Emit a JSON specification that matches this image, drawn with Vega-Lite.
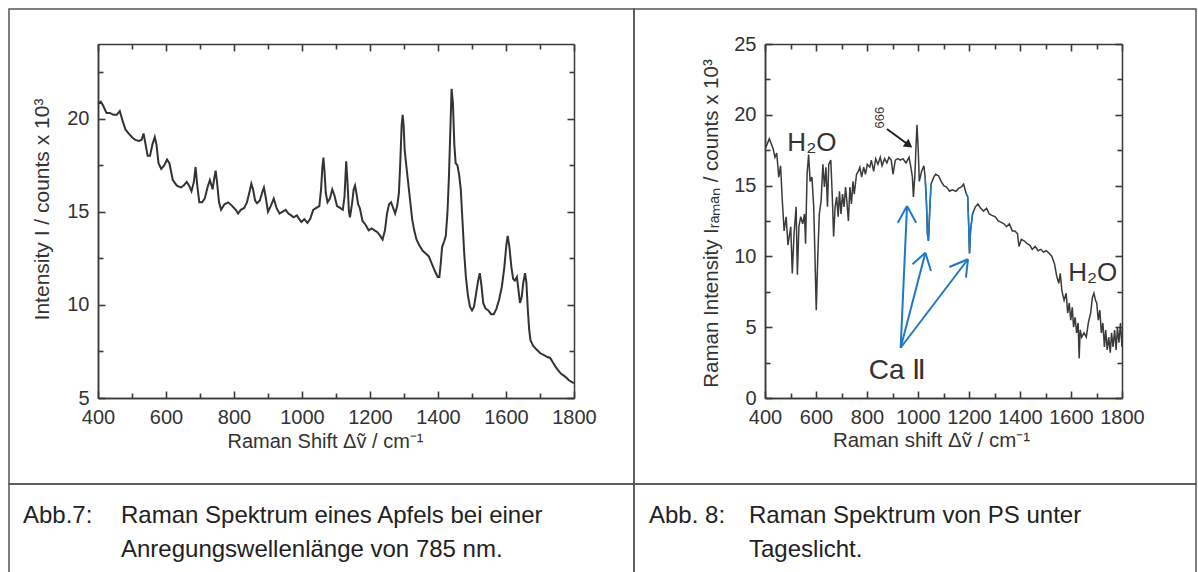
{
  "$schema": "https://vega.github.io/schema/vega-lite/v6.json",
  "padding": {"left": 8, "top": 8, "right": 0, "bottom": 0},
  "background": "white",
  "spacing": 0,
  "columns": 2,
  "align": "each",
  "bounds": "flush",
  "config": {
    "font": "Liberation Sans",
    "view": {"stroke": null},
    "concat": {"spacing": 0},
    "axis": {"grid": false, "domainColor": "#3a3a3a", "domainWidth": 1.5, "tickColor": "#3a3a3a", "tickWidth": 1.6, "labelColor": "#333", "titleColor": "#333", "labelFontSize": 20, "titleFontSize": 20, "titleFontWeight": "normal", "labelFont": "Liberation Sans", "titleFont": "Liberation Sans", "labelFlush": false, "labelOverlap": false}
  },
  "datasets": {
    "apple": [
      {"shift":400,"intensity":20.8},{"shift":408,"intensity":20.9},{"shift":415,"intensity":20.7},{"shift":425,"intensity":20.3},{"shift":435,"intensity":20.3},{"shift":445,"intensity":20.2},{"shift":455,"intensity":20.2},{"shift":464,"intensity":20.4},{"shift":472,"intensity":19.9},{"shift":481,"intensity":19.4},{"shift":490,"intensity":19.2},{"shift":500,"intensity":19.0},{"shift":510,"intensity":18.85},{"shift":520,"intensity":18.8},{"shift":528,"intensity":18.85},{"shift":534,"intensity":19.2},{"shift":540,"intensity":18.6},{"shift":546,"intensity":18.0},{"shift":553,"intensity":18.0},{"shift":560,"intensity":18.6},{"shift":567,"intensity":19.0},{"shift":572,"intensity":18.6},{"shift":578,"intensity":17.6},{"shift":586,"intensity":17.3},{"shift":595,"intensity":17.5},{"shift":603,"intensity":17.8},{"shift":610,"intensity":17.6},{"shift":620,"intensity":16.7},{"shift":632,"intensity":16.4},{"shift":644,"intensity":16.3},{"shift":652,"intensity":16.4},{"shift":661,"intensity":16.6},{"shift":668,"intensity":16.4},{"shift":675,"intensity":16.1},{"shift":682,"intensity":16.6},{"shift":687,"intensity":17.4},{"shift":692,"intensity":16.4},{"shift":698,"intensity":15.5},{"shift":706,"intensity":15.5},{"shift":714,"intensity":15.7},{"shift":722,"intensity":16.3},{"shift":729,"intensity":16.7},{"shift":734,"intensity":16.4},{"shift":737,"intensity":16.2},{"shift":742,"intensity":16.8},{"shift":746,"intensity":17.2},{"shift":750,"intensity":16.6},{"shift":756,"intensity":15.5},{"shift":762,"intensity":15.1},{"shift":772,"intensity":15.4},{"shift":783,"intensity":15.5},{"shift":795,"intensity":15.3},{"shift":805,"intensity":15.1},{"shift":812,"intensity":14.9},{"shift":820,"intensity":15.1},{"shift":830,"intensity":15.2},{"shift":838,"intensity":15.5},{"shift":846,"intensity":16.1},{"shift":851,"intensity":16.5},{"shift":856,"intensity":16.2},{"shift":862,"intensity":15.6},{"shift":868,"intensity":15.45},{"shift":876,"intensity":15.6},{"shift":884,"intensity":16.1},{"shift":888,"intensity":16.3},{"shift":893,"intensity":15.8},{"shift":900,"intensity":15.0},{"shift":908,"intensity":15.3},{"shift":917,"intensity":15.7},{"shift":925,"intensity":15.2},{"shift":934,"intensity":14.9},{"shift":943,"intensity":15.0},{"shift":952,"intensity":15.1},{"shift":960,"intensity":14.9},{"shift":968,"intensity":14.8},{"shift":975,"intensity":14.7},{"shift":985,"intensity":14.8},{"shift":992,"intensity":14.6},{"shift":998,"intensity":14.45},{"shift":1007,"intensity":14.6},{"shift":1016,"intensity":14.4},{"shift":1024,"intensity":14.6},{"shift":1033,"intensity":15.1},{"shift":1042,"intensity":15.2},{"shift":1051,"intensity":15.3},{"shift":1056,"intensity":16.2},{"shift":1060,"intensity":17.4},{"shift":1063,"intensity":17.9},{"shift":1066,"intensity":17.2},{"shift":1070,"intensity":16.0},{"shift":1075,"intensity":15.5},{"shift":1082,"intensity":15.7},{"shift":1089,"intensity":16.2},{"shift":1095,"intensity":15.9},{"shift":1103,"intensity":15.3},{"shift":1112,"intensity":15.2},{"shift":1120,"intensity":15.1},{"shift":1125,"intensity":15.8},{"shift":1130,"intensity":17.7},{"shift":1134,"intensity":16.5},{"shift":1138,"intensity":15.0},{"shift":1141,"intensity":14.7},{"shift":1147,"intensity":15.4},{"shift":1152,"intensity":16.2},{"shift":1156,"intensity":16.4},{"shift":1160,"intensity":16.0},{"shift":1165,"intensity":15.4},{"shift":1170,"intensity":15.2},{"shift":1178,"intensity":14.5},{"shift":1187,"intensity":14.3},{"shift":1196,"intensity":14.0},{"shift":1205,"intensity":14.1},{"shift":1213,"intensity":14.0},{"shift":1222,"intensity":13.9},{"shift":1230,"intensity":13.7},{"shift":1237,"intensity":13.5},{"shift":1244,"intensity":14.0},{"shift":1250,"intensity":14.9},{"shift":1256,"intensity":15.4},{"shift":1262,"intensity":15.5},{"shift":1268,"intensity":15.2},{"shift":1274,"intensity":14.9},{"shift":1280,"intensity":15.3},{"shift":1285,"intensity":16.0},{"shift":1289,"intensity":17.6},{"shift":1293,"intensity":19.6},{"shift":1296,"intensity":20.2},{"shift":1299,"intensity":19.6},{"shift":1302,"intensity":18.3},{"shift":1306,"intensity":17.6},{"shift":1312,"intensity":16.6},{"shift":1318,"intensity":15.6},{"shift":1324,"intensity":14.6},{"shift":1330,"intensity":14.0},{"shift":1337,"intensity":13.5},{"shift":1345,"intensity":13.2},{"shift":1355,"intensity":12.9},{"shift":1364,"intensity":12.75},{"shift":1373,"intensity":12.6},{"shift":1382,"intensity":12.2},{"shift":1391,"intensity":11.8},{"shift":1399,"intensity":11.5},{"shift":1404,"intensity":11.5},{"shift":1408,"intensity":12.2},{"shift":1412,"intensity":13.1},{"shift":1418,"intensity":13.4},{"shift":1423,"intensity":13.7},{"shift":1428,"intensity":15.0},{"shift":1432,"intensity":16.8},{"shift":1436,"intensity":19.2},{"shift":1440,"intensity":21.6},{"shift":1444,"intensity":20.8},{"shift":1448,"intensity":18.6},{"shift":1452,"intensity":17.6},{"shift":1457,"intensity":17.5},{"shift":1462,"intensity":17.0},{"shift":1467,"intensity":16.2},{"shift":1472,"intensity":14.5},{"shift":1477,"intensity":12.8},{"shift":1482,"intensity":11.5},{"shift":1488,"intensity":10.5},{"shift":1494,"intensity":9.9},{"shift":1500,"intensity":9.7},{"shift":1506,"intensity":9.9},{"shift":1512,"intensity":10.6},{"shift":1518,"intensity":11.3},{"shift":1523,"intensity":11.7},{"shift":1528,"intensity":11.0},{"shift":1533,"intensity":10.1},{"shift":1540,"intensity":9.8},{"shift":1548,"intensity":9.7},{"shift":1556,"intensity":9.5},{"shift":1564,"intensity":9.5},{"shift":1572,"intensity":9.8},{"shift":1580,"intensity":10.3},{"shift":1588,"intensity":11.0},{"shift":1595,"intensity":12.0},{"shift":1601,"intensity":13.2},{"shift":1605,"intensity":13.7},{"shift":1610,"intensity":13.1},{"shift":1616,"intensity":12.0},{"shift":1621,"intensity":11.4},{"shift":1626,"intensity":11.3},{"shift":1632,"intensity":11.5},{"shift":1636,"intensity":10.9},{"shift":1641,"intensity":10.1},{"shift":1646,"intensity":10.4},{"shift":1651,"intensity":11.2},{"shift":1656,"intensity":11.7},{"shift":1660,"intensity":11.2},{"shift":1664,"intensity":9.8},{"shift":1668,"intensity":8.7},{"shift":1672,"intensity":8.1},{"shift":1680,"intensity":7.8},{"shift":1690,"intensity":7.6},{"shift":1701,"intensity":7.4},{"shift":1712,"intensity":7.3},{"shift":1722,"intensity":7.2},{"shift":1730,"intensity":7.15},{"shift":1738,"intensity":6.9},{"shift":1745,"intensity":6.7},{"shift":1753,"intensity":6.5},{"shift":1762,"intensity":6.3},{"shift":1770,"intensity":6.2},{"shift":1777,"intensity":6.1},{"shift":1785,"intensity":5.95},{"shift":1794,"intensity":5.85},{"shift":1800,"intensity":5.8}
    ],
    "ps": [
      {"shift":403,"intensity":17.7},{"shift":417,"intensity":18.3},{"shift":432,"intensity":17.6},{"shift":439,"intensity":17.0},{"shift":446,"intensity":17.3},{"shift":454,"intensity":15.6},{"shift":461,"intensity":16.4},{"shift":468,"intensity":13.9},{"shift":475,"intensity":11.8},{"shift":483,"intensity":12.8},{"shift":490,"intensity":10.8},{"shift":501,"intensity":12.1},{"shift":507,"intensity":8.8},{"shift":514,"intensity":11.6},{"shift":522,"intensity":13.5},{"shift":527,"intensity":8.7},{"shift":533,"intensity":12.1},{"shift":540,"intensity":12.8},{"shift":548,"intensity":12.3},{"shift":555,"intensity":13.0},{"shift":559,"intensity":10.9},{"shift":565,"intensity":15.8},{"shift":571,"intensity":17.2},{"shift":577,"intensity":15.3},{"shift":584,"intensity":15.6},{"shift":591,"intensity":13.5},{"shift":595,"intensity":10.7},{"shift":601,"intensity":6.2},{"shift":607,"intensity":10.0},{"shift":613,"intensity":13.0},{"shift":620,"intensity":13.9},{"shift":627,"intensity":16.5},{"shift":633,"intensity":14.9},{"shift":639,"intensity":16.3},{"shift":645,"intensity":13.5},{"shift":650,"intensity":16.5},{"shift":658,"intensity":16.8},{"shift":664,"intensity":14.2},{"shift":669,"intensity":11.4},{"shift":675,"intensity":13.5},{"shift":681,"intensity":14.2},{"shift":687,"intensity":12.8},{"shift":692,"intensity":14.6},{"shift":698,"intensity":13.0},{"shift":704,"intensity":14.4},{"shift":710,"intensity":13.5},{"shift":716,"intensity":14.9},{"shift":721,"intensity":13.9},{"shift":727,"intensity":12.5},{"shift":733,"intensity":14.9},{"shift":739,"intensity":13.7},{"shift":745,"intensity":15.3},{"shift":750,"intensity":14.4},{"shift":759,"intensity":15.8},{"shift":766,"intensity":16.0},{"shift":772,"intensity":16.3},{"shift":779,"intensity":15.6},{"shift":787,"intensity":16.3},{"shift":794,"intensity":15.8},{"shift":801,"intensity":16.5},{"shift":811,"intensity":16.3},{"shift":817,"intensity":16.8},{"shift":826,"intensity":16.0},{"shift":834,"intensity":16.9},{"shift":843,"intensity":16.5},{"shift":852,"intensity":17.0},{"shift":859,"intensity":16.4},{"shift":869,"intensity":16.9},{"shift":878,"intensity":16.6},{"shift":886,"intensity":17.0},{"shift":895,"intensity":16.8},{"shift":902,"intensity":15.8},{"shift":911,"intensity":16.8},{"shift":921,"intensity":16.9},{"shift":931,"intensity":16.8},{"shift":941,"intensity":16.9},{"shift":953,"intensity":16.6},{"shift":965,"intensity":17.0},{"shift":972,"intensity":16.3},{"shift":978,"intensity":15.6},{"shift":982,"intensity":14.2},{"shift":988,"intensity":15.8},{"shift":992,"intensity":17.7},{"shift":996,"intensity":19.3},{"shift":1001,"intensity":17.5},{"shift":1005,"intensity":15.3},{"shift":1014,"intensity":16.0},{"shift":1023,"intensity":16.4},{"shift":1028,"intensity":15.6},{"shift":1033,"intensity":13.9},{"shift":1037,"intensity":11.6},{"shift":1041,"intensity":11.1},{"shift":1046,"intensity":13.2},{"shift":1051,"intensity":15.1},{"shift":1062,"intensity":15.6},{"shift":1069,"intensity":15.8},{"shift":1080,"intensity":15.7},{"shift":1091,"intensity":15.3},{"shift":1101,"intensity":15.0},{"shift":1112,"intensity":14.9},{"shift":1124,"intensity":14.6},{"shift":1134,"intensity":14.7},{"shift":1149,"intensity":14.6},{"shift":1159,"intensity":14.8},{"shift":1170,"intensity":14.9},{"shift":1179,"intensity":15.1},{"shift":1188,"intensity":14.5},{"shift":1195,"intensity":14.2},{"shift":1199,"intensity":12.1},{"shift":1202,"intensity":10.2},{"shift":1206,"intensity":11.8},{"shift":1214,"intensity":13.0},{"shift":1225,"intensity":13.5},{"shift":1235,"intensity":13.7},{"shift":1246,"intensity":13.4},{"shift":1257,"intensity":13.2},{"shift":1269,"intensity":13.4},{"shift":1279,"intensity":13.0},{"shift":1290,"intensity":12.9},{"shift":1303,"intensity":12.8},{"shift":1315,"intensity":12.5},{"shift":1327,"intensity":12.4},{"shift":1337,"intensity":12.3},{"shift":1347,"intensity":12.1},{"shift":1358,"intensity":12.3},{"shift":1370,"intensity":11.8},{"shift":1380,"intensity":11.8},{"shift":1390,"intensity":11.6},{"shift":1396,"intensity":10.7},{"shift":1405,"intensity":11.2},{"shift":1416,"intensity":11.1},{"shift":1428,"intensity":10.9},{"shift":1438,"intensity":10.8},{"shift":1448,"intensity":10.5},{"shift":1460,"intensity":10.7},{"shift":1471,"intensity":10.4},{"shift":1482,"intensity":10.5},{"shift":1492,"intensity":10.3},{"shift":1503,"intensity":10.4},{"shift":1515,"intensity":10.2},{"shift":1525,"intensity":10.0},{"shift":1535,"intensity":9.5},{"shift":1544,"intensity":8.6},{"shift":1552,"intensity":8.1},{"shift":1558,"intensity":8.8},{"shift":1564,"intensity":7.6},{"shift":1573,"intensity":6.9},{"shift":1581,"intensity":7.4},{"shift":1587,"intensity":6.0},{"shift":1593,"intensity":6.7},{"shift":1599,"intensity":5.5},{"shift":1605,"intensity":6.4},{"shift":1610,"intensity":5.0},{"shift":1616,"intensity":5.7},{"shift":1622,"intensity":4.6},{"shift":1628,"intensity":5.3},{"shift":1632,"intensity":2.8},{"shift":1636,"intensity":4.8},{"shift":1642,"intensity":4.3},{"shift":1651,"intensity":4.6},{"shift":1660,"intensity":4.3},{"shift":1668,"intensity":5.3},{"shift":1677,"intensity":6.0},{"shift":1684,"intensity":7.1},{"shift":1690,"intensity":7.4},{"shift":1696,"intensity":6.9},{"shift":1701,"intensity":6.7},{"shift":1707,"intensity":5.5},{"shift":1713,"intensity":6.2},{"shift":1719,"intensity":4.6},{"shift":1725,"intensity":5.3},{"shift":1731,"intensity":3.6},{"shift":1736,"intensity":4.8},{"shift":1742,"intensity":3.4},{"shift":1748,"intensity":4.3},{"shift":1754,"intensity":3.2},{"shift":1759,"intensity":4.6},{"shift":1765,"intensity":3.6},{"shift":1771,"intensity":4.8},{"shift":1777,"intensity":3.4},{"shift":1782,"intensity":5.0},{"shift":1788,"intensity":3.9},{"shift":1794,"intensity":5.3},{"shift":1800,"intensity":3.6}
    ],
    "caArrows": [
      {"shift":932,"intensity":3.55,"shift2":957,"intensity2":13.56},
      {"shift":932,"intensity":3.55,"shift2":1029,"intensity2":10.26},
      {"shift":932,"intensity":3.55,"shift2":1196,"intensity2":9.8},
      {"shift":920.8,"intensity":12.38,"shift2":956.9,"intensity2":13.56},
      {"shift":956.9,"intensity":13.56,"shift2":992.9,"intensity2":12.38},
      {"shift":978.4,"intensity":9.44,"shift2":1029,"intensity2":10.26},
      {"shift":1029,"intensity":10.26,"shift2":1051,"intensity2":8.97},
      {"shift":1123,"intensity":9.25,"shift2":1196,"intensity2":9.8},
      {"shift":1196,"intensity":9.8,"shift2":1188,"intensity2":8.5}
    ],
    "peakArrow": [{"shift":878,"intensity":19.0,"shift2":960,"intensity2":17.92}],
    "peakHead": [{"shift":960,"intensity":17.92}],
    "labels": [
      {"shift":584,"intensity":18.0,"label":"H₂O"},
      {"shift":1685,"intensity":8.8,"label":"H₂O"}
    ],
    "caLabel": [{"shift":920,"intensity":1.9,"label":"Ca Ⅱ"}],
    "peakLabel": [{"shift":847,"intensity":19.8,"label":"999"}],
    "capL": [
      {"col":"label","line":1,"text":"Abb.7:"},
      {"col":"body","line":1,"text":"Raman Spektrum eines Apfels bei einer"},
      {"col":"body","line":2,"text":"Anregungswellenlänge von 785 nm."}
    ],
    "capR": [
      {"col":"label","line":1,"text":"Abb. 8:"},
      {"col":"body","line":1,"text":"Raman Spektrum von PS unter"},
      {"col":"body","line":2,"text":"Tageslicht."}
    ]
  },
  "concat": [
    {
      "width": 625,
      "height": 475,
      "view": {"stroke": "#555", "strokeWidth": 1.5},
      "data": {"name": "apple"},
      "layer": [
        {
          "mark": {"type": "line", "color": "#333", "strokeWidth": 2},
          "encoding": {
            "x": {"field": "shift", "type": "quantitative", "scale": {"domain": [400, 1800], "range": [89, 565], "nice": false, "zero": false},
              "axis": {"orient": "bottom", "offset": -86, "values": [400,600,800,1000,1200,1400,1600,1800], "format": "d", "ticks": false, "tickSize": 0, "labelPadding": 9, "title": "Raman Shift Δṽ / cm⁻¹", "titlePadding": 4, "titleX": 316}},
            "y": {"field": "intensity", "type": "quantitative", "scale": {"domain": [5, 24], "range": [389, 35], "nice": false, "zero": false},
              "axis": {"orient": "left", "offset": -89, "values": [5,10,15,20], "format": "d", "ticks": false, "tickSize": 0, "labelPadding": 9, "title": "Intensity I / counts x 10³", "titlePadding": 14, "titleFontSize": 21, "titleY": 200}}
          }
        },
        {
          "mark": {"type": "line", "opacity": 0},
          "encoding": {
            "x": {"field": "shift", "type": "quantitative", "scale": {"domain": [400, 1800], "range": [89, 565], "nice": false, "zero": false},
              "axis": {"orient": "top", "offset": -389, "values": [400,500,600,700,800,900,1000,1100,1200,1300,1400,1500,1600,1700,1800], "labels": false, "tickSize": {"condition": {"test": "datum.value % 200 === 0", "value": 7}, "value": 5}, "title": null}},
            "y": {"field": "intensity", "type": "quantitative", "scale": {"domain": [5, 24], "range": [389, 35], "nice": false, "zero": false},
              "axis": {"orient": "right", "offset": -536, "values": [5,7.5,10,12.5,15,17.5,20,22.5], "labels": false, "tickSize": {"condition": {"test": "datum.value % 5 === 0", "value": 7}, "value": 5}, "title": null}}
          }
        },
        {
          "mark": {"type": "line", "opacity": 0},
          "encoding": {
            "x": {"field": "shift", "type": "quantitative", "scale": {"domain": [400, 1800], "range": [89, 565], "nice": false, "zero": false},
              "axis": {"orient": "bottom", "offset": -440, "values": [400,500,600,700,800,900,1000,1100,1200,1300,1400,1500,1600,1700,1800], "labels": false, "tickSize": {"condition": {"test": "datum.value % 200 === 0", "value": 7}, "value": 5}, "title": null}},
            "y": {"field": "intensity", "type": "quantitative", "scale": {"domain": [5, 24], "range": [389, 35], "nice": false, "zero": false},
              "axis": {"orient": "left", "offset": -565, "values": [5,7.5,10,12.5,15,17.5,20,22.5], "labels": false, "tickSize": {"condition": {"test": "datum.value % 5 === 0", "value": 7}, "value": 5}, "title": null}}
          }
        }
      ],
      "resolve": {"axis": {"x": "independent", "y": "independent"}}
    },
    {
      "width": 562,
      "height": 475,
      "view": {"stroke": "#555", "strokeWidth": 1.5},
      "layer": [
        {
          "data": {"name": "ps"},
          "mark": {"type": "line", "color": "#3a3a3a", "strokeWidth": 1.5},
          "encoding": {
            "x": {"field": "shift", "type": "quantitative", "scale": {"domain": [400, 1800], "range": [131, 488], "nice": false, "zero": false},
              "axis": {"orient": "bottom", "offset": -86, "values": [400,600,800,1000,1200,1400,1600,1800], "format": "d", "ticks": false, "tickSize": 0, "labelPadding": 9, "title": "Raman shift Δṽ / cm⁻¹", "titlePadding": 3, "titleX": 297, "titleFontSize": 20.5}},
            "y": {"field": "intensity", "type": "quantitative", "scale": {"domain": [0, 25], "range": [389, 35], "nice": false, "zero": false},
              "axis": {"orient": "left", "offset": -131, "values": [0,5,10,15,20,25], "format": "d", "ticks": false, "tickSize": 0, "labelPadding": 9, "title": "Raman Intensity Iᵣₐₘₐₙ / counts x 10³", "titlePadding": 12, "titleFontSize": 20.5, "titleY": 214}}
          }
        },
        {
          "data": {"name": "ps"},
          "mark": {"type": "line", "opacity": 0},
          "encoding": {
            "x": {"field": "shift", "type": "quantitative", "scale": {"domain": [400, 1800], "range": [131, 488], "nice": false, "zero": false},
              "axis": {"orient": "top", "offset": -389, "values": [400,500,600,700,800,900,1000,1100,1200,1300,1400,1500,1600,1700,1800], "labels": false, "tickSize": {"condition": {"test": "datum.value % 200 === 0", "value": 7}, "value": 5}, "title": null}},
            "y": {"field": "intensity", "type": "quantitative", "scale": {"domain": [0, 25], "range": [389, 35], "nice": false, "zero": false},
              "axis": {"orient": "right", "offset": -431, "values": [0,2.5,5,7.5,10,12.5,15,17.5,20,22.5,25], "labels": false, "tickSize": {"condition": {"test": "datum.value % 5 === 0", "value": 7}, "value": 5}, "title": null}}
          }
        },
        {
          "data": {"name": "ps"},
          "mark": {"type": "line", "opacity": 0},
          "encoding": {
            "x": {"field": "shift", "type": "quantitative", "scale": {"domain": [400, 1800], "range": [131, 488], "nice": false, "zero": false},
              "axis": {"orient": "bottom", "offset": -440, "values": [400,500,600,700,800,900,1000,1100,1200,1300,1400,1500,1600,1700,1800], "labels": false, "tickSize": {"condition": {"test": "datum.value % 200 === 0", "value": 7}, "value": 5}, "title": null}},
            "y": {"field": "intensity", "type": "quantitative", "scale": {"domain": [0, 25], "range": [389, 35], "nice": false, "zero": false},
              "axis": {"orient": "left", "offset": -488, "values": [0,2.5,5,7.5,10,12.5,15,17.5,20,22.5,25], "labels": false, "tickSize": {"condition": {"test": "datum.value % 5 === 0", "value": 7}, "value": 5}, "title": null}}
          }
        },
        {
          "data": {"name": "ps"},
          "transform": [{"filter": {"field": "shift", "range": [1028, 1051]}}],
          "mark": {"type": "line", "color": "#1f78c8", "strokeWidth": 1.5},
          "encoding": {
            "x": {"field": "shift", "type": "quantitative", "axis": null},
            "y": {"field": "intensity", "type": "quantitative", "axis": null}
          }
        },
        {
          "data": {"name": "ps"},
          "transform": [{"filter": {"field": "shift", "range": [1188, 1214]}}],
          "mark": {"type": "line", "color": "#1f78c8", "strokeWidth": 1.5},
          "encoding": {
            "x": {"field": "shift", "type": "quantitative", "axis": null},
            "y": {"field": "intensity", "type": "quantitative", "axis": null}
          }
        },
        {
          "data": {"name": "caArrows"},
          "mark": {"type": "rule", "color": "#1f78c8", "strokeWidth": 2},
          "encoding": {
            "x": {"field": "shift", "type": "quantitative", "axis": null},
            "y": {"field": "intensity", "type": "quantitative", "axis": null},
            "x2": {"field": "shift2"},
            "y2": {"field": "intensity2"}
          }
        },
        {
          "data": {"name": "peakArrow"},
          "mark": {"type": "rule", "color": "#222", "strokeWidth": 2},
          "encoding": {
            "x": {"field": "shift", "type": "quantitative", "axis": null},
            "y": {"field": "intensity", "type": "quantitative", "axis": null},
            "x2": {"field": "shift2"},
            "y2": {"field": "intensity2"}
          }
        },
        {
          "data": {"name": "peakHead"},
          "mark": {"type": "point", "shape": "triangle", "angle": 126, "size": 90, "filled": true, "color": "#222", "opacity": 1},
          "encoding": {
            "x": {"field": "shift", "type": "quantitative", "axis": null},
            "y": {"field": "intensity", "type": "quantitative", "axis": null}
          }
        },
        {
          "data": {"name": "labels"},
          "mark": {"type": "text", "fontSize": 26, "color": "#333", "align": "center", "baseline": "middle", "font": "Liberation Sans"},
          "encoding": {
            "x": {"field": "shift", "type": "quantitative", "axis": null},
            "y": {"field": "intensity", "type": "quantitative", "axis": null},
            "text": {"field": "label"}
          }
        },
        {
          "data": {"name": "caLabel"},
          "mark": {"type": "text", "fontSize": 28, "color": "#333", "align": "center", "baseline": "middle", "font": "Liberation Sans"},
          "encoding": {
            "x": {"field": "shift", "type": "quantitative", "axis": null},
            "y": {"field": "intensity", "type": "quantitative", "axis": null},
            "text": {"field": "label"}
          }
        },
        {
          "data": {"name": "peakLabel"},
          "mark": {"type": "text", "fontSize": 13, "color": "#333", "align": "center", "baseline": "middle", "angle": 90, "font": "Liberation Sans"},
          "encoding": {
            "x": {"field": "shift", "type": "quantitative", "axis": null},
            "y": {"field": "intensity", "type": "quantitative", "axis": null},
            "text": {"field": "label"}
          }
        }
      ],
      "resolve": {"axis": {"x": "independent", "y": "independent"}}
    },
    {
      "width": 625,
      "height": 89,
      "view": {"stroke": "#555", "strokeWidth": 1.5},
      "data": {"name": "capL"},
      "mark": {"type": "text", "align": "left", "baseline": "middle", "fontSize": 24, "color": "#222", "font": "Liberation Sans"},
      "encoding": {
        "x": {"field": "col", "type": "nominal", "scale": {"type": "point", "domain": ["label", "body"], "range": [14, 112], "padding": 0}, "axis": null},
        "y": {"field": "line", "type": "ordinal", "scale": {"type": "point", "domain": [1, 2], "range": [32, 66], "padding": 0}, "axis": null},
        "text": {"field": "text"}
      }
    },
    {
      "width": 562,
      "height": 89,
      "view": {"stroke": "#555", "strokeWidth": 1.5},
      "data": {"name": "capR"},
      "mark": {"type": "text", "align": "left", "baseline": "middle", "fontSize": 24, "color": "#222", "font": "Liberation Sans"},
      "encoding": {
        "x": {"field": "col", "type": "nominal", "scale": {"type": "point", "domain": ["label", "body"], "range": [15, 115], "padding": 0}, "axis": null},
        "y": {"field": "line", "type": "ordinal", "scale": {"type": "point", "domain": [1, 2], "range": [32, 66], "padding": 0}, "axis": null},
        "text": {"field": "text"}
      }
    }
  ]
}
